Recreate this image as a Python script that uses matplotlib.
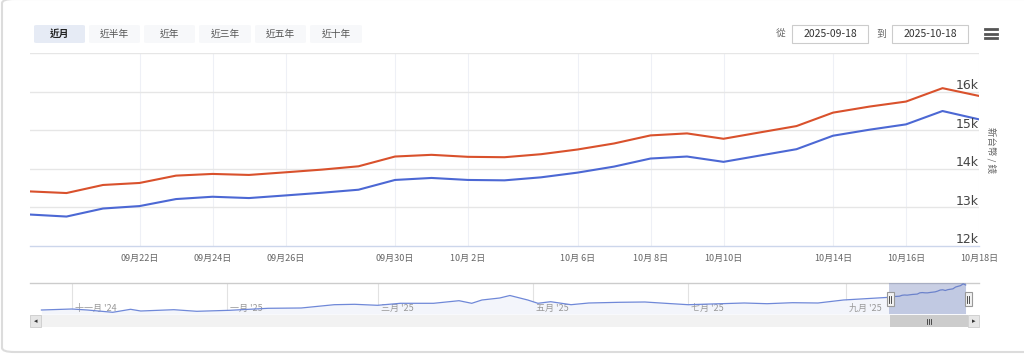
import matplotlib
matplotlib.use("Agg")
import matplotlib.pyplot as plt
import matplotlib.dates as mdates
from matplotlib.patches import FancyBboxPatch, Rectangle
import datetime as dt

plt.rcParams['font.family'] = ['Noto Sans CJK TC', 'DejaVu Sans']

# ---------------- data ----------------
dates = ['2025-09-18', '2025-09-19', '2025-09-20', '2025-09-22', '2025-09-23', '2025-09-24',
         '2025-09-25', '2025-09-26', '2025-09-27', '2025-09-29', '2025-09-30', '2025-10-01',
         '2025-10-02', '2025-10-03', '2025-10-04', '2025-10-06', '2025-10-07', '2025-10-08',
         '2025-10-09', '2025-10-10', '2025-10-11', '2025-10-13', '2025-10-14', '2025-10-15',
         '2025-10-16', '2025-10-17', '2025-10-18']
sell = [13414, 13372, 13581, 13633, 13823, 13867, 13841, 13909, 13979, 14065, 14318, 14362,
        14310, 14300, 14378, 14500, 14656, 14865, 14917, 14778, 14943, 15107, 15455, 15612,
        15742, 16089, 15888]
buy = [12815, 12763, 12971, 13034, 13216, 13276, 13242, 13310, 13380, 13458, 13711, 13763,
       13711, 13701, 13779, 13901, 14057, 14266, 14318, 14180, 14344, 14508, 14857, 15013,
       15151, 15497, 15281]

tick_dates = ['2025-09-22', '2025-09-24', '2025-09-26', '2025-09-30', '2025-10-02', '2025-10-06',
              '2025-10-08', '2025-10-10', '2025-10-14', '2025-10-16', '2025-10-18']
tick_labels = ['09月22日', '09月24日', '09月26日', '09月30日', '10月 2日', '10月 6日',
               '10月 8日', '10月10日', '10月14日', '10月16日', '10月18日']
y_ticks = [12000, 13000, 14000, 15000, 16000, 17000]
y_labels = ['12k', '13k', '14k', '15k', '16k', '']

nav_hist_dates = ['2024-10-20', '2024-11-01', '2024-11-07', '2024-11-17', '2024-11-24', '2024-11-28',
                  '2024-12-11', '2024-12-20', '2025-01-02', '2025-01-17', '2025-01-30', '2025-02-12',
                  '2025-02-20', '2025-03-01', '2025-03-10', '2025-03-23', '2025-04-02', '2025-04-07',
                  '2025-04-11', '2025-04-18', '2025-04-22', '2025-04-29', '2025-05-03', '2025-05-08',
                  '2025-05-16', '2025-05-23', '2025-06-04', '2025-06-14', '2025-06-22', '2025-07-01',
                  '2025-07-10', '2025-07-23', '2025-08-01', '2025-08-11', '2025-08-21', '2025-08-31']
nav_hist_vals = [10275, 10475, 10275, 9815, 10415, 10075, 10335, 10015, 10215, 10615, 10675, 11335,
                 11415, 11215, 11615, 11615, 12135, 11615, 12275, 12675, 13175, 12275, 11615, 11935,
                 11335, 11675, 11815, 11875, 11615, 11335, 11475, 11675, 11535, 11735, 11675, 12275]
nav_months = ['2024-11-01', '2025-01-01', '2025-03-01', '2025-05-01', '2025-07-01', '2025-09-01']
nav_month_labels = ["十一月 '24", "一月 '25", "三月 '25", "五月 '25", "七月 '25", "九月 '25"]

buttons = ['近月', '近半年', '近年', '近三年', '近五年', '近十年']
date_from, date_to = '2025-09-18', '2025-10-18'
y_title = '新台幣 / 錢'

RED = '#d9512c'
BLUE = '#4c68d4'

# ---------------- figure ----------------
W, H = 1024, 355
fig = plt.figure(figsize=(W / 100, H / 100), dpi=100)
fig.patch.set_facecolor('white')


def fx(x):
    return x / W


def fy(y):
    return 1 - y / H


def box(ax_l, ax_t, ax_r, ax_b):
    return [fx(ax_l), fy(ax_b), fx(ax_r) - fx(ax_l), fy(ax_t) - fy(ax_b)]


# outer card
card = FancyBboxPatch((fx(2), fy(352)), fx(1040) - fx(2), fy(-1) - fy(352),
                      boxstyle='round,pad=0,rounding_size=0.012', transform=fig.transFigure,
                      facecolor='white', edgecolor='#dcdcdc', linewidth=1.5, zorder=-10)
fig.patches.append(card)

# range selector buttons
btn_x = [(34, 85), (89, 140), (144, 195), (199, 251), (255, 306), (310, 362)]
for i, (lab, (x0, x1)) in enumerate(zip(buttons, btn_x)):
    sel = (i == 0)
    p = FancyBboxPatch((fx(x0), fy(43)), fx(x1) - fx(x0), fy(25) - fy(43),
                       boxstyle='round,pad=0,rounding_size=0.003', transform=fig.transFigure,
                       facecolor='#e6ebf5' if sel else '#f7f8fa', edgecolor='none', zorder=1)
    fig.patches.append(p)
    fig.text(fx((x0 + x1) / 2), fy(34), lab, ha='center', va='center', fontsize=7,
             color='#222222' if sel else '#555555', fontweight='bold' if sel else 'normal')

# date inputs
fig.text(fx(781), fy(33.5), '從', ha='center', va='center', fontsize=7, color='#666666')
fig.text(fx(881), fy(33.5), '到', ha='center', va='center', fontsize=7, color='#666666')
for (x0, x1), s in zip([(792, 868), (892, 968)], [date_from, date_to]):
    r = Rectangle((fx(x0), fy(43)), fx(x1) - fx(x0), fy(25) - fy(43), transform=fig.transFigure,
                  facecolor='white', edgecolor='#cccccc', linewidth=0.8, zorder=1)
    fig.patches.append(r)
    fig.text(fx((x0 + x1) / 2), fy(34), s, ha='center', va='center', fontsize=7.5, color='#333333')

# hamburger menu
for yy in (29, 33.5, 38):
    fig.add_artist(plt.Line2D([fx(985), fx(997)], [fy(yy), fy(yy)], color='#555555',
                              linewidth=2.0, transform=fig.transFigure))

# ---------------- main chart ----------------
ax = fig.add_axes(box(30, 53, 979, 246))
ax.set_facecolor('none')
idx = list(range(len(dates)))
pos = {d: i for i, d in enumerate(dates)}
ax.plot(idx, sell, color=RED, linewidth=1.5, zorder=3, solid_joinstyle='round')
ax.plot(idx, buy, color=BLUE, linewidth=1.5, zorder=3, solid_joinstyle='round')
ax.set_xlim(0, len(dates) - 1)
ax.set_ylim(12000, 17000)
for v in y_ticks[1:]:
    ax.axhline(v, color='#e6e6e6', linewidth=1, zorder=1)
for d in tick_dates:
    ax.axvline(pos[d], color='#eef0f6', linewidth=0.8, zorder=0)
for s in ['top', 'left', 'right']:
    ax.spines[s].set_visible(False)
ax.spines['bottom'].set_color('#ccd6eb')
ax.spines['bottom'].set_linewidth(1)
ax.set_xticks([pos[d] for d in tick_dates])
ax.set_xticklabels(tick_labels, fontsize=6.5, color='#666666')
ax.tick_params(axis='x', length=0, pad=6)
ax.set_yticks([])
for v, lab in zip(y_ticks, y_labels):
    if lab:
        ax.annotate(lab, xy=(1.0, v), xycoords=('axes fraction', 'data'), xytext=(0, 6),
                    textcoords='offset pixels', ha='right', va='center', fontsize=9,
                    color='#444444', family=['DejaVu Sans'])
fig.text(fx(991), fy(150), y_title, rotation=270, ha='center', va='center', fontsize=6.8,
         color='#666666')

# ---------------- navigator ----------------
nav = fig.add_axes(box(30, 283, 979, 314))
nav.set_facecolor('none')
to_num = lambda s: mdates.date2num(dt.datetime.strptime(s, '%Y-%m-%d'))
nav_x = [to_num(d) for d in nav_hist_dates] + [to_num(d) for d in dates]
nav_y = nav_hist_vals + buy
px_day = (846 - 72) / (to_num('2025-09-01') - to_num('2024-11-01'))
left = to_num('2024-11-01') - (72 - 30) / px_day
right = to_num('2025-09-01') + (979 - 846) / px_day
nav.set_xlim(left, right)
nav.set_ylim(9475, 15675)
nav.fill_between(nav_x, nav_y, 9475, color='#f3f5fb', zorder=1, linewidth=0)
nav.plot(nav_x, nav_y, color='#6f88d8', linewidth=0.9, zorder=3)
for d, lab in zip(nav_months, nav_month_labels):
    nav.axvline(to_num(d), color='#e2e2e2', linewidth=0.8, zorder=0)
    nav.text(to_num(d) + 3 / px_day, 0.17, lab, transform=nav.get_xaxis_transform(), ha='left',
             va='center', fontsize=6.5, color='#999999', zorder=2)
nav.set_xticks([])
nav.set_yticks([])
for s in ['left', 'right', 'bottom']:
    nav.spines[s].set_visible(False)
nav.spines['top'].set_color('#cccccc')
nav.spines['top'].set_linewidth(1)
sel0, sel1 = to_num(date_from), to_num(date_to)
nav.axvspan(sel0, sel1, color=(102 / 255, 120 / 255, 180 / 255, 0.35), zorder=4, linewidth=0)

# handles
for xh in (890, 968):
    fig.patches.append(Rectangle((fx(xh - 3.5), fy(306)), fx(7), fy(292) - fy(306),
                                 transform=fig.transFigure, facecolor='#f2f2f2',
                                 edgecolor='#999999', linewidth=0.8, zorder=5))
    for dx in (-1, 1):
        fig.add_artist(plt.Line2D([fx(xh + dx), fx(xh + dx)], [fy(295.5), fy(302.5)],
                                  color='#333333', linewidth=0.6, transform=fig.transFigure,
                                  zorder=6))

# scrollbar
fig.patches.append(Rectangle((fx(30), fy(327)), fx(949), fy(315) - fy(327), transform=fig.transFigure,
                             facecolor='#f2f2f2', edgecolor='none', zorder=2))
fig.patches.append(Rectangle((fx(890), fy(327)), fx(78), fy(315) - fy(327), transform=fig.transFigure,
                             facecolor='#cccccc', edgecolor='none', zorder=3))
for gx in (927, 929, 931):
    fig.add_artist(plt.Line2D([fx(gx), fx(gx)], [fy(318.5), fy(323.5)], color='#333333',
                              linewidth=0.6, transform=fig.transFigure, zorder=4))
for (x0, arrow) in ((30, '◂'), (968, '▸')):
    fig.patches.append(Rectangle((fx(x0), fy(327)), fx(11), fy(315) - fy(327),
                                 transform=fig.transFigure, facecolor='#e6e6e6',
                                 edgecolor='#cccccc', linewidth=0.6, zorder=4))
    fig.text(fx(x0 + 5.5), fy(321), arrow, ha='center', va='center', fontsize=5,
             color='#333333', family=['DejaVu Sans'], zorder=5)

fig.savefig('out.png', dpi=100, facecolor='white')
